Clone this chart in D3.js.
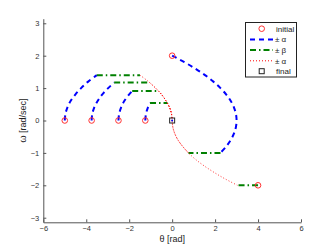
<!DOCTYPE html>
<html><head><meta charset="utf-8">
<script src="https://cdn.jsdelivr.net/npm/d3@7"></script>
<style>body{margin:0;background:#fff}svg{display:block}</style>
</head><body>
<svg id="c" width="332" height="250"></svg>
<script>
// ---- data (theta [rad], omega [rad/sec]) ----
const initialPts = [[-5,0],[-3.75,0],[-2.5,0],[-1.25,0],[0,2],[4,-2]];
const finalPts = [[0,0]];
const accelCurves = [
  [[-5,0],[-4.97,0.2],[-4.88,0.4],[-4.73,0.6],[-4.51,0.8],[-4.24,1.0],[-3.91,1.2],[-3.51,1.4]],
  [[-3.75,0],[-3.72,0.2],[-3.63,0.4],[-3.47,0.6],[-3.26,0.8],[-2.98,1.0],[-2.7,1.17]],
  [[-2.5,0],[-2.47,0.2],[-2.38,0.4],[-2.23,0.6],[-2.01,0.8],[-1.86,0.91]],
  [[-1.25,0],[-1.22,0.2],[-1.13,0.4],[-1.03,0.54]],
  [[0,2],[0.57,1.8],[1.08,1.6],[1.53,1.4],[1.92,1.2],[2.25,1.0],[2.52,0.8],[2.73,0.6],[2.88,0.4],[2.97,0.2],[3.0,0],[2.97,-0.2],[2.88,-0.4],[2.73,-0.6],[2.52,-0.8],[2.25,-1.0]]
];
const coastLines = [
  [[-3.51,1.4],[-1.5,1.4]],
  [[-2.7,1.17],[-1.05,1.17]],
  [[-1.86,0.91],[-0.63,0.91]],
  [[-1.03,0.54],[-0.22,0.54]],
  [[2.25,-1.0],[0.76,-1.0]],
  [[4,-2],[3.04,-2]]
];
const decelCurves = [
  [[-1.5,1.4],[-1.1,1.2],[-0.77,1.0],[-0.49,0.8],[-0.28,0.6],[-0.12,0.4],[-0.03,0.2],[0,0]],
  [[-1.05,1.17],[-0.77,1.0],[-0.49,0.8],[-0.28,0.6],[-0.12,0.4],[-0.03,0.2],[0,0]],
  [[-0.63,0.91],[-0.49,0.8],[-0.28,0.6],[-0.12,0.4],[-0.03,0.2],[0,0]],
  [[-0.22,0.54],[-0.12,0.4],[-0.03,0.2],[0,0]],
  [[0.76,-1.0],[0.49,-0.8],[0.27,-0.6],[0.12,-0.4],[0.03,-0.2],[0,0]],
  [[3.04,-2],[2.46,-1.8],[1.95,-1.6],[1.49,-1.4],[1.09,-1.2],[0.76,-1.0],[0.49,-0.8],[0.27,-0.6],[0.12,-0.4],[0.03,-0.2],[0,0]]
];
const xTicks = [-6,-4,-2,0,2,4,6];
const yTicks = [-3,-2,-1,0,1,2,3];
const legendLabels = ["initial","\u00b1 \u03b1","\u00b1 \u03b2","\u00b1 \u03b1","final"];
const xLabel = "\u03b8 [rad]";
const yLabel = "\u03c9 [rad/sec]";

// ---- layout ----
const svg = d3.select("#c");
const L = 43.3, R = 301, T = 18.7, B = 222.3;
const x = d3.scaleLinear().domain([-6,6]).range([L,R]);
const y = d3.scaleLinear().domain([-Math.PI,Math.PI]).range([B,T]);
const font = "'Liberation Sans', Arial, sans-serif";
const axisCol = "#555";

const gx = svg.append("g").attr("transform",`translate(0,${B})`)
  .call(d3.axisBottom(x).tickValues(xTicks).tickSizeInner(-3).tickSizeOuter(0).tickPadding(3.5)
    .tickFormat(d=>d<0?"\u2212"+Math.abs(d):d));
const gy = svg.append("g").attr("transform",`translate(${L},0)`)
  .call(d3.axisLeft(y).tickValues(yTicks).tickSizeInner(-3).tickSizeOuter(0).tickPadding(4)
    .tickFormat(d=>d<0?"\u2212"+Math.abs(d):d));
[gx,gy].forEach(g=>{
  g.select(".domain").attr("stroke",axisCol).attr("stroke-width",1);
  g.selectAll(".tick line").attr("stroke",axisCol);
  g.selectAll("text").attr("font-family",font).attr("font-size",7.5).attr("fill","#333");
});

svg.append("text").attr("x",(L+R)/2).attr("y",242).attr("text-anchor","middle")
  .attr("font-family",font).attr("font-size",9).attr("fill","#222").text(xLabel);
svg.append("text").attr("transform",`translate(26,${(T+B)/2}) rotate(-90)`).attr("text-anchor","middle")
  .attr("font-family",font).attr("font-size",9).attr("fill","#222").text(yLabel);

const lineLin = d3.line().x(d=>x(d[0])).y(d=>y(d[1]));
const lineCurve = d3.line().x(d=>x(d[0])).y(d=>y(d[1])).curve(d3.curveCatmullRom);

const styles = {
  blue: {stroke:"#0000ff", w:2, dash:"5,4"},
  green:{stroke:"#008000", w:2, dash:"6,3,1.5,3"},
  red:  {stroke:"#ff0000", w:1, dash:"1,2"}
};
const plot = svg.append("g");
accelCurves.forEach(c=>plot.append("path").attr("d",lineCurve(c))
  .attr("fill","none").attr("stroke",styles.blue.stroke).attr("stroke-width",styles.blue.w).attr("stroke-dasharray",styles.blue.dash));
coastLines.forEach(c=>plot.append("path").attr("d",lineLin(c))
  .attr("fill","none").attr("stroke",styles.green.stroke).attr("stroke-width",styles.green.w).attr("stroke-dasharray",styles.green.dash));
decelCurves.forEach(c=>plot.append("path").attr("d",lineCurve(c))
  .attr("fill","none").attr("stroke",styles.red.stroke).attr("stroke-width",styles.red.w).attr("stroke-dasharray",styles.red.dash).attr("opacity",0.8));

plot.selectAll("circle.init").data(initialPts).join("circle").attr("class","init")
  .attr("cx",d=>x(d[0])).attr("cy",d=>y(d[1])).attr("r",2.8)
  .attr("fill","none").attr("stroke","#ff3030").attr("stroke-width",1);
plot.selectAll("rect.fin").data(finalPts).join("rect").attr("class","fin")
  .attr("x",d=>x(d[0])-2.5).attr("y",d=>y(d[1])-2.5).attr("width",5).attr("height",5)
  .attr("fill","none").attr("stroke","#222").attr("stroke-width",1);
plot.selectAll("circle.fdot").data(finalPts).join("circle").attr("class","fdot")
  .attr("cx",d=>x(d[0])).attr("cy",d=>y(d[1])).attr("r",1).attr("fill","#0000ff");

// ---- legend ----
const lg = svg.append("g");
lg.append("rect").attr("x",245.5).attr("y",22.5).attr("width",51).attr("height",54.5)
  .attr("fill","#fff").attr("stroke","#222").attr("stroke-width",1);
const rowsY = [28.7,39.4,50.1,60.8,71.2];
const kinds = ["circle","blue","green","red","square"];
legendLabels.forEach((lab,i)=>{
  const yy = rowsY[i];
  const k = kinds[i];
  if (k==="circle") {
    lg.append("circle").attr("cx",261.7).attr("cy",yy).attr("r",2.8).attr("fill","none").attr("stroke","#ff3030");
  } else if (k==="square") {
    lg.append("rect").attr("x",259.2).attr("y",yy-2.5).attr("width",5).attr("height",5).attr("fill","none").attr("stroke","#222");
  } else {
    const s = styles[k];
    lg.append("line").attr("x1",250).attr("x2",273).attr("y1",yy).attr("y2",yy)
      .attr("stroke",s.stroke).attr("stroke-width",s.w).attr("stroke-dasharray",s.dash);
  }
  lg.append("text").attr("x",i===0||i===4?276:275).attr("y",yy+2.9)
    .attr("font-family",font).attr("font-size",8).attr("fill","#222").text(lab);
});
</script>
</body></html>
